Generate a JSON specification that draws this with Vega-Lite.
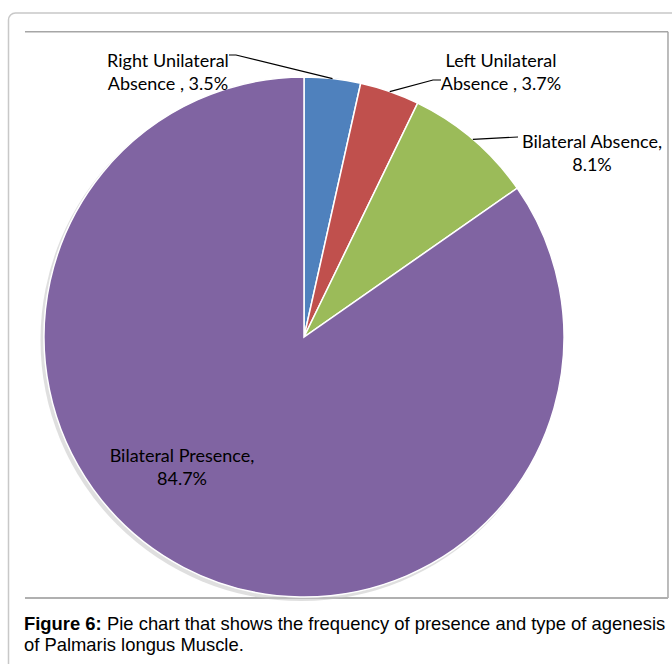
{
  "$schema": "https://vega.github.io/schema/vega-lite/v6.json",
  "width": 672,
  "height": 664,
  "autosize": {"type": "none"},
  "padding": 0,
  "background": "white",
  "config": {"view": {"stroke": null}},
  "layer": [
    {
      "data": {"values": [{"frame": "outer"}]},
      "mark": {"type": "rect", "filled": false, "stroke": "#c8c8c8", "strokeWidth": 1.5, "cornerRadius": 7},
      "encoding": {
        "x": {"datum": -1.1365, "type": "quantitative", "scale": {"domain": [-1.1692, 1.4154], "nice": false, "zero": false}, "axis": null},
        "x2": {"datum": 1.5},
        "y": {"datum": 1.2462, "type": "quantitative", "scale": {"domain": [-1.2577, 1.2962], "nice": false, "zero": false}, "axis": null},
        "y2": {"datum": -1.4}
      }
    },
    {
      "data": {"values": [{"frame": "top"}]},
      "mark": {"type": "rule", "stroke": "#a6a6a6", "strokeWidth": 1.5},
      "encoding": {
        "x": {"datum": -1.0731, "type": "quantitative", "scale": {"domain": [-1.1692, 1.4154], "nice": false, "zero": false}, "axis": null},
        "x2": {"datum": 1.4},
        "y": {"datum": 1.1742, "type": "quantitative", "scale": {"domain": [-1.2577, 1.2962], "nice": false, "zero": false}, "axis": null}
      }
    },
    {
      "data": {"values": [{"frame": "right"}]},
      "mark": {"type": "rule", "stroke": "#a6a6a6", "strokeWidth": 1.5},
      "encoding": {
        "x": {"datum": 1.4, "type": "quantitative", "scale": {"domain": [-1.1692, 1.4154], "nice": false, "zero": false}, "axis": null},
        "y": {"datum": 1.1742, "type": "quantitative", "scale": {"domain": [-1.2577, 1.2962], "nice": false, "zero": false}, "axis": null},
        "y2": {"datum": -1.0038}
      }
    },
    {
      "data": {"values": [{"frame": "bottom"}]},
      "mark": {"type": "rule", "stroke": "#b0b0b0", "strokeWidth": 2},
      "encoding": {
        "x": {"datum": -1.0731, "type": "quantitative", "scale": {"domain": [-1.1692, 1.4154], "nice": false, "zero": false}, "axis": null},
        "x2": {"datum": 1.4},
        "y": {"datum": -1.0038, "type": "quantitative", "scale": {"domain": [-1.2577, 1.2962], "nice": false, "zero": false}, "axis": null}
      }
    },
    {
      "data": {"values": [{"shadow": "pie"}]},
      "mark": {"type": "arc", "radius": 261, "theta": 0, "theta2": 6.2832, "fill": "#c4c4c4", "opacity": 0.55},
      "encoding": {
        "x": {"datum": -0.0096, "type": "quantitative", "scale": {"domain": [-1.1692, 1.4154], "nice": false, "zero": false}, "axis": null},
        "y": {"datum": -0.0115, "type": "quantitative", "scale": {"domain": [-1.2577, 1.2962], "nice": false, "zero": false}, "axis": null}
      }
    },
    {
      "data": {"values": [
        {"category": "Right Unilateral Absence", "pct": 3.5},
        {"category": "Left Unilateral Absence", "pct": 3.7},
        {"category": "Bilateral Absence", "pct": 8.1},
        {"category": "Bilateral Presence", "pct": 84.7}
      ]},
      "mark": {"type": "arc", "radius": 260, "stroke": "white", "strokeWidth": 1.5},
      "encoding": {
        "theta": {"field": "pct", "type": "quantitative", "stack": true},
        "order": {"field": "pct", "type": "quantitative", "sort": "ascending"},
        "color": {
          "field": "category",
          "type": "nominal",
          "scale": {
            "domain": ["Right Unilateral Absence", "Left Unilateral Absence", "Bilateral Absence", "Bilateral Presence"],
            "range": ["#4f81bd", "#c0504d", "#9bbb59", "#8064a2"]
          },
          "legend": null
        },
        "x": {"datum": 0, "type": "quantitative", "scale": {"domain": [-1.1692, 1.4154], "nice": false, "zero": false}, "axis": null},
        "y": {"datum": 0, "type": "quantitative", "scale": {"domain": [-1.2577, 1.2962], "nice": false, "zero": false}, "axis": null}
      }
    },
    {
      "data": {"values": [
        {"id": 1, "seq": 1, "lx": -0.2885, "ly": 1.0846},
        {"id": 1, "seq": 2, "lx": -0.2615, "ly": 1.0846},
        {"id": 1, "seq": 3, "lx": 0.1097, "ly": 0.9940},
        {"id": 2, "seq": 1, "lx": 0.5269, "ly": 0.9885},
        {"id": 2, "seq": 2, "lx": 0.4962, "ly": 0.9885},
        {"id": 2, "seq": 3, "lx": 0.3298, "ly": 0.9440},
        {"id": 3, "seq": 1, "lx": 0.8231, "ly": 0.7692},
        {"id": 3, "seq": 2, "lx": 0.6494, "ly": 0.7604}
      ]},
      "mark": {"type": "line", "color": "black", "strokeWidth": 1.2},
      "encoding": {
        "x": {"field": "lx", "type": "quantitative", "scale": {"domain": [-1.1692, 1.4154], "nice": false, "zero": false}, "axis": null},
        "y": {"field": "ly", "type": "quantitative", "scale": {"domain": [-1.2577, 1.2962], "nice": false, "zero": false}, "axis": null},
        "detail": {"field": "id", "type": "nominal"},
        "order": {"field": "seq", "type": "quantitative"}
      }
    },
    {
      "data": {"values": [
        {"text": "Right Unilateral\nAbsence , 3.5%", "lx": -0.5231, "ly": 1.0577},
        {"text": "Left Unilateral\nAbsence , 3.7%", "lx": 0.7577, "ly": 1.0577},
        {"text": "Bilateral Absence,\n8.1%", "lx": 1.1077, "ly": 0.7481},
        {"text": "Bilateral Presence,\n84.7%", "lx": -0.4692, "ly": -0.4615}
      ]},
      "mark": {"type": "text", "font": "Lato", "fontSize": 18, "lineHeight": 23, "lineBreak": "\n", "align": "center", "baseline": "middle", "color": "black"},
      "encoding": {
        "x": {"field": "lx", "type": "quantitative", "scale": {"domain": [-1.1692, 1.4154], "nice": false, "zero": false}, "axis": null},
        "y": {"field": "ly", "type": "quantitative", "scale": {"domain": [-1.2577, 1.2962], "nice": false, "zero": false}, "axis": null},
        "text": {"field": "text", "type": "nominal"}
      }
    },
    {
      "data": {"values": [{"text": "Figure 6:"}]},
      "mark": {"type": "text", "font": "Liberation Sans", "fontSize": 18.4, "fontWeight": "bold", "align": "left", "baseline": "alphabetic", "color": "black"},
      "encoding": {
        "x": {"datum": -1.0769, "type": "quantitative", "scale": {"domain": [-1.1692, 1.4154], "nice": false, "zero": false}, "axis": null},
        "y": {"datum": -1.1269, "type": "quantitative", "scale": {"domain": [-1.2577, 1.2962], "nice": false, "zero": false}, "axis": null},
        "text": {"field": "text", "type": "nominal"}
      }
    },
    {
      "data": {"values": [{"text": "Pie chart that shows the frequency of presence and type of agenesis"}]},
      "mark": {"type": "text", "font": "Liberation Sans", "fontSize": 18.4, "align": "left", "baseline": "alphabetic", "color": "black"},
      "encoding": {
        "x": {"datum": -0.7577, "type": "quantitative", "scale": {"domain": [-1.1692, 1.4154], "nice": false, "zero": false}, "axis": null},
        "y": {"datum": -1.1269, "type": "quantitative", "scale": {"domain": [-1.2577, 1.2962], "nice": false, "zero": false}, "axis": null},
        "text": {"field": "text", "type": "nominal"}
      }
    },
    {
      "data": {"values": [{"text": "of Palmaris longus Muscle."}]},
      "mark": {"type": "text", "font": "Liberation Sans", "fontSize": 18.4, "align": "left", "baseline": "alphabetic", "color": "black"},
      "encoding": {
        "x": {"datum": -1.0769, "type": "quantitative", "scale": {"domain": [-1.1692, 1.4154], "nice": false, "zero": false}, "axis": null},
        "y": {"datum": -1.2077, "type": "quantitative", "scale": {"domain": [-1.2577, 1.2962], "nice": false, "zero": false}, "axis": null},
        "text": {"field": "text", "type": "nominal"}
      }
    }
  ]
}
